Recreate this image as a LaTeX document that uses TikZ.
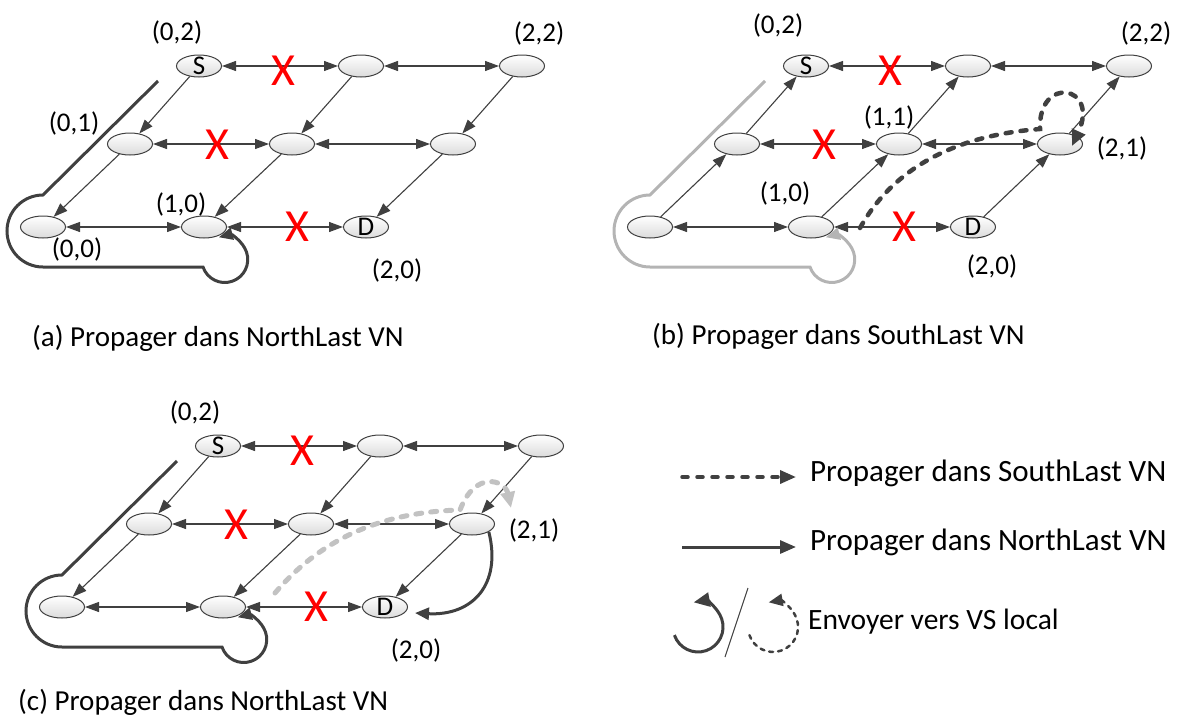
\documentclass[tikz,border=0pt]{standalone}
\usepackage{fontspec}
\setmainfont{Carlito}
\usetikzlibrary{arrows.meta,shapes.geometric}
\definecolor{dk}{HTML}{404040}
\definecolor{lg}{HTML}{B4B4B4}
\definecolor{lg2}{HTML}{C2C2C2}
\tikzset{
  vn/.style={ellipse, draw=dk, line width=1pt, minimum width=45pt, minimum height=22pt,
    inner sep=0pt, top color=white, bottom color=black!14,
    label={[font=\fontsize{27}{27}\selectfont, inner sep=0pt]center:#1}},
  vn/.default={},
  lnk/.style={draw=dk, line width=1.1pt, -{Triangle[length=14pt,width=10pt]}},
  bi/.style={draw=dk, line width=1.1pt, {Triangle[length=14pt,width=10pt]}-{Triangle[length=14pt,width=10pt]}},
  xm/.style={text=red, font=\fontsize{46}{46}\selectfont, inner sep=0pt},
  crd/.style={font=\fontsize{27}{27}\selectfont, inner sep=0pt},
  capt/.style={font=\fontsize{29}{29}\selectfont, inner sep=0pt, anchor=west},
  route/.style={draw=#1, line width=3pt, -{Triangle[length=14pt,width=12pt]}},
  sdash/.style={draw=#1, line width=4.5pt, dash pattern=on 6pt off 9pt, line cap=round,
    -{Triangle[length=16pt,width=14pt]}},
}
\newcommand\mkgrid[1]{%
  \node[vn] (#1-00) at (43,227) {};
  \node[vn] (#1-10) at (204,227) {};
  \node[vn=D] (#1-20) at (366,227) {};
  \node[vn] (#1-01) at (130,144) {};
  \node[vn] (#1-11) at (292,144) {};
  \node[vn] (#1-21) at (453,144) {};
  \node[vn=S] (#1-02) at (199,66) {};
  \node[vn] (#1-12) at (361,66) {};
  \node[vn] (#1-22) at (522,66) {};
  \draw[bi] (#1-00) -- (#1-10);
  \draw[bi] (#1-10) -- (#1-20);
  \draw[bi] (#1-01) -- (#1-11);
  \draw[bi] (#1-11) -- (#1-21);
  \draw[bi] (#1-02) -- (#1-12);
  \draw[bi] (#1-12) -- (#1-22);
  \node[xm] (#1-x2) at (283,71) {X};
  \node[xm] (#1-x1) at (217,145) {X};
  \node[xm] (#1-x0) at (297,227) {X};
}
\newcommand\mkdown[1]{%
  \draw[lnk] (#1-02) -- (#1-01);
  \draw[lnk] (#1-01) -- (#1-00);
  \draw[lnk] (#1-12) -- (#1-11);
  \draw[lnk] (#1-11) -- (#1-10);
  \draw[lnk] (#1-22) -- (#1-21);
  \draw[lnk] (#1-21) -- (#1-20);
}
\newcommand\mkup[1]{%
  \draw[lnk] (#1-00) -- (#1-01);
  \draw[lnk] (#1-01) -- (#1-02);
  \draw[lnk] (#1-10) -- (#1-11);
  \draw[lnk] (#1-11) -- (#1-12);
  \draw[lnk] (#1-20) -- (#1-21);
  \draw[lnk] (#1-21) -- (#1-22);
}
\newcommand\mkroute[2]{%
  \coordinate (#1-rs) at (158,81);
  \draw[route=#2] (#1-rs) -- (43,195) arc[start angle=-90,end angle=-270,radius=36]
    -- (203,267) arc[start angle=161,end angle=-105,radius=23];
}
\begin{document}
\begin{tikzpicture}[x=1pt,y=-1pt]
\useasboundingbox (0,0) rectangle (1183,718);

% ---------- panel (a)
\mkgrid{a}
\mkdown{a}
\mkroute{a}{dk}
\node[crd] (a-l02) at (177,32) {(0,2)};
\node[crd] (a-l22) at (539,33) {(2,2)};
\node[crd] (a-l01) at (74,123) {(0,1)};
\node[crd] (a-l10) at (181,204) {(1,0)};
\node[crd] (a-l00) at (77,249) {(0,0)};
\node[crd] (a-l20) at (397,270) {(2,0)};
\node[capt] (a-cap) at (32,338) {(a) Propager dans NorthLast VN};

% ---------- panel (b)
\begin{scope}[shift={(607,0)}]
\mkgrid{b}
\mkup{b}
\mkroute{b}{lg}
\end{scope}
\coordinate (b-ds) at (860,228);
\coordinate (b-dm) at (1040,129);
\coordinate (b-de) at (1072,146);
\draw[sdash=dk] (b-ds) .. controls (895,165) and (960,135) .. (b-dm)
  .. controls (1038,75) and (1100,85) .. (b-de);
\node[crd] (b-l02) at (778,25) {(0,2)};
\node[crd] (b-l22) at (1146,33) {(2,2)};
\node[crd] (b-l11) at (889,117) {(1,1)};
\node[crd] (b-l10) at (785,193) {(1,0)};
\node[crd] (b-l21) at (1122,148) {(2,1)};
\node[crd] (b-l20) at (992,266) {(2,0)};
\node[capt] (b-cap) at (652,336) {(b) Propager dans SouthLast VN};

% ---------- panel (c)
\begin{scope}[shift={(19,380)}]
\mkgrid{c}
\mkdown{c}
\mkroute{c}{dk}
\end{scope}
\coordinate (c-gs) at (275,593);
\coordinate (c-gm) at (460,510);
\coordinate (c-ge) at (511,508);
\draw[sdash=lg2, line width=5pt] (c-gs) .. controls (320,540) and (380,512) .. (c-gm)
  .. controls (475,470) and (505,480) .. (c-ge);
\coordinate (c-ae) at (415,613);
\draw[route=dk] (c-21.-25) .. controls (502,585) and (472,616) .. (c-ae);
\node[crd] (c-l02) at (195,412) {(0,2)};
\node[crd] (c-l21) at (534,530) {(2,1)};
\node[crd] (c-l20) at (416,650) {(2,0)};
\node[capt] (c-cap) at (18,702) {(c) Propager dans NorthLast VN};

% ---------- legend
\coordinate (g1s) at (682,477);
\coordinate (g1e) at (796,477);
\draw[sdash=dk, line width=3.5pt, -{Triangle[length=16pt,width=13pt]}] (g1s) -- (g1e);
\node[capt, font=\fontsize{31}{31}\selectfont] (g1t) at (810,473) {Propager dans SouthLast VN};
\coordinate (g2s) at (682,547);
\coordinate (g2e) at (796,547);
\draw[route=dk, -{Triangle[length=16pt,width=13pt]}] (g2s) -- (g2e);
\node[capt, font=\fontsize{31}{31}\selectfont] (g2t) at (810,542) {Propager dans NorthLast VN};
\coordinate (g3s) at (674.4,635.1);
\draw[route=dk, -{Triangle[length=16pt,width=14pt]}] (g3s) arc[start angle=161,end angle=-100,radius=25];
\coordinate (g4a) at (748,588);
\coordinate (g4b) at (725,657);
\draw[draw=dk, line width=1pt] (g4a) -- (g4b);
\coordinate (g5s) at (749.4,635.1);
\draw[draw=dk, line width=2.5pt, dash pattern=on 4pt off 5pt, line cap=round,
  -{Triangle[length=14pt,width=12pt]}] (g5s) arc[start angle=161,end angle=-100,radius=25];
\node[capt, font=\fontsize{29.5}{29.5}\selectfont] (g5t) at (808,622) {Envoyer vers VS local};
\end{tikzpicture}
\end{document}
